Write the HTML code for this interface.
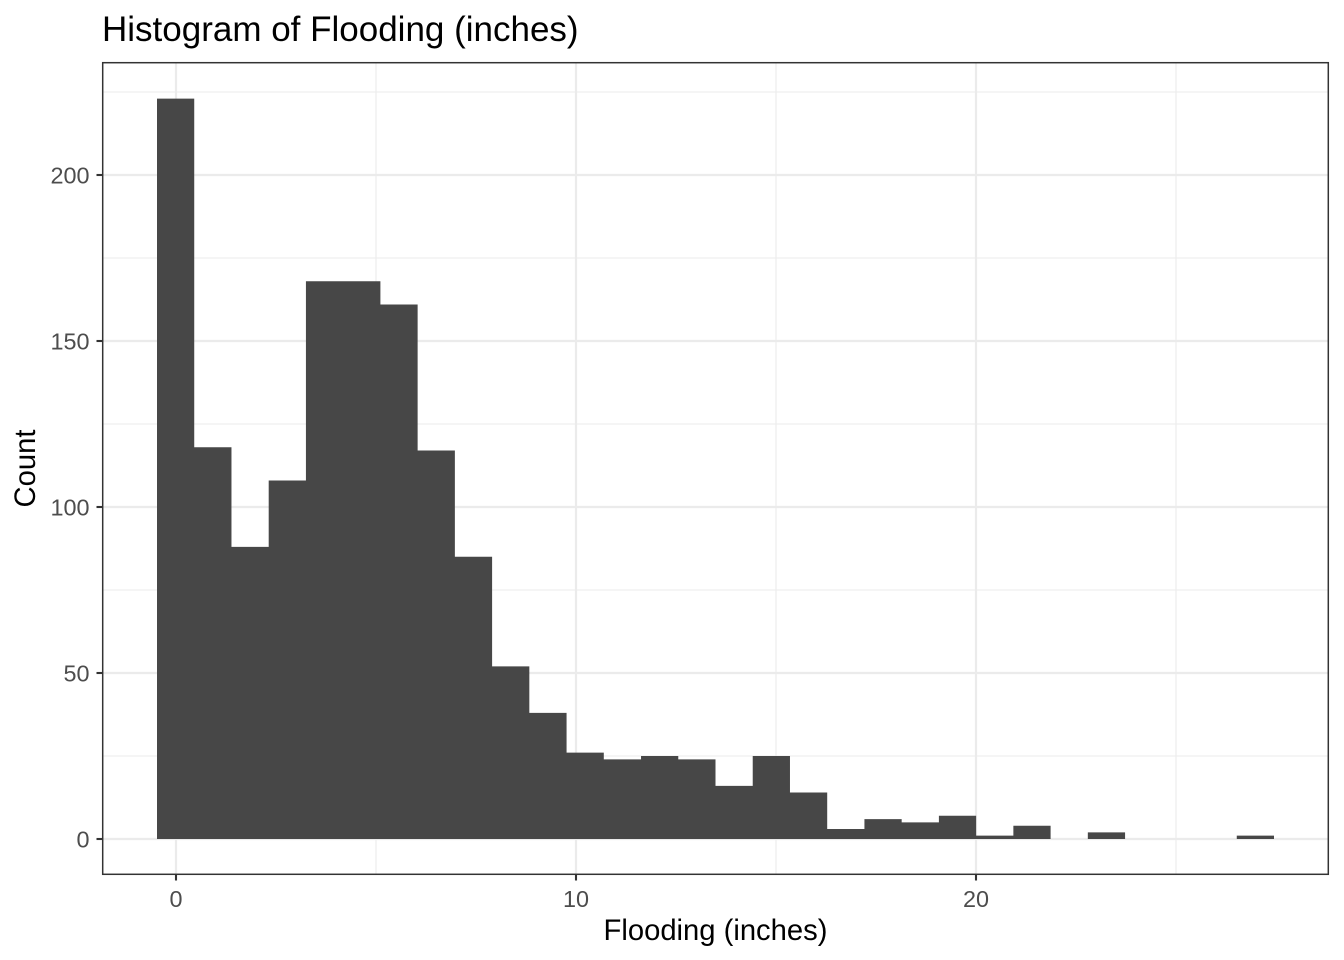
<!DOCTYPE html>
<html>
<head>
<meta charset="utf-8">
<style>
  html, body { margin: 0; padding: 0; background: #ffffff; }
  svg { display: block; }
  text { font-family: "Liberation Sans", Arial, Helvetica, sans-serif; }
</style>
</head>
<body>
<svg width="1344" height="960" viewBox="0 0 1344 960" xmlns="http://www.w3.org/2000/svg">
  <rect x="0" y="0" width="1344" height="960" fill="#ffffff"/>

  <!-- panel background -->
  <rect x="102" y="62" width="1227" height="813" fill="#ffffff"/>

  <!-- minor grid -->
  <g stroke="#EBEBEB" stroke-width="1.1" fill="none">
    <line x1="102" y1="756" x2="1329" y2="756"/>
    <line x1="102" y1="590" x2="1329" y2="590"/>
    <line x1="102" y1="424" x2="1329" y2="424"/>
    <line x1="102" y1="258" x2="1329" y2="258"/>
    <line x1="102" y1="92" x2="1329" y2="92"/>
    <line x1="376" y1="62" x2="376" y2="875"/>
    <line x1="776" y1="62" x2="776" y2="875"/>
    <line x1="1176" y1="62" x2="1176" y2="875"/>
  </g>
  <!-- major grid -->
  <g stroke="#EBEBEB" stroke-width="2.2" fill="none">
    <line x1="102" y1="839" x2="1329" y2="839"/>
    <line x1="102" y1="673" x2="1329" y2="673"/>
    <line x1="102" y1="507" x2="1329" y2="507"/>
    <line x1="102" y1="341" x2="1329" y2="341"/>
    <line x1="102" y1="175" x2="1329" y2="175"/>
    <line x1="176" y1="62" x2="176" y2="875"/>
    <line x1="576" y1="62" x2="576" y2="875"/>
    <line x1="976" y1="62" x2="976" y2="875"/>
  </g>

  <!-- bars (single path to avoid seams) -->
  <path fill="#474747" d="M157 839 V98.64 H194.23 V447.24 H231.47 V546.84 H268.70 V480.44 H305.93 V281.24 H380.40 V304.48 H417.63 V450.56 H454.87 V556.80 H492.10 V666.36 H529.33 V712.84 H566.57 V752.68 H603.80 V759.32 H641.03 V756 H678.27 V759.32 H715.50 V785.88 H752.73 V756 H789.97 V792.52 H827.20 V829.04 H864.43 V819.08 H901.67 V822.40 H938.90 V815.76 H976.13 V835.68 H1013.37 V825.72 H1050.60 V839 Z M1087.83 839 V832.36 H1125.07 V839 Z M1236.77 839 V835.68 H1274 V839 Z"/>

  <!-- panel border -->
  <rect x="102.7" y="62.7" width="1225.6" height="811.6" fill="none" stroke="#333333" stroke-width="1.5"/>

  <!-- y ticks -->
  <g stroke="#333333" stroke-width="2.1">
    <line x1="96.5" y1="839" x2="102" y2="839"/>
    <line x1="96.5" y1="673" x2="102" y2="673"/>
    <line x1="96.5" y1="507" x2="102" y2="507"/>
    <line x1="96.5" y1="341" x2="102" y2="341"/>
    <line x1="96.5" y1="175" x2="102" y2="175"/>
  </g>
  <!-- x ticks -->
  <g stroke="#333333" stroke-width="2.1">
    <line x1="176" y1="875" x2="176" y2="880.5"/>
    <line x1="576" y1="875" x2="576" y2="880.5"/>
    <line x1="976" y1="875" x2="976" y2="880.5"/>
  </g>

  <!-- y tick labels -->
  <g fill="#4D4D4D" font-size="23.4" text-anchor="end">
    <text x="89.5" y="847.4">0</text>
    <text x="89.5" y="681.4">50</text>
    <text x="89.5" y="515.4">100</text>
    <text x="89.5" y="349.4">150</text>
    <text x="89.5" y="183.4">200</text>
  </g>
  <!-- x tick labels -->
  <g fill="#4D4D4D" font-size="23.4" text-anchor="middle">
    <text x="176" y="907">0</text>
    <text x="576" y="907">10</text>
    <text x="976" y="907">20</text>
  </g>

  <!-- axis titles -->
  <text x="715.5" y="940" font-size="29.2" fill="#000000" text-anchor="middle">Flooding (inches)</text>
  <text x="0" y="0" font-size="29.2" fill="#000000" text-anchor="middle" transform="translate(35,468.5) rotate(-90)">Count</text>

  <!-- title -->
  <text x="102" y="41" font-size="35" fill="#000000">Histogram of Flooding (inches)</text>
</svg>
</body>
</html>
